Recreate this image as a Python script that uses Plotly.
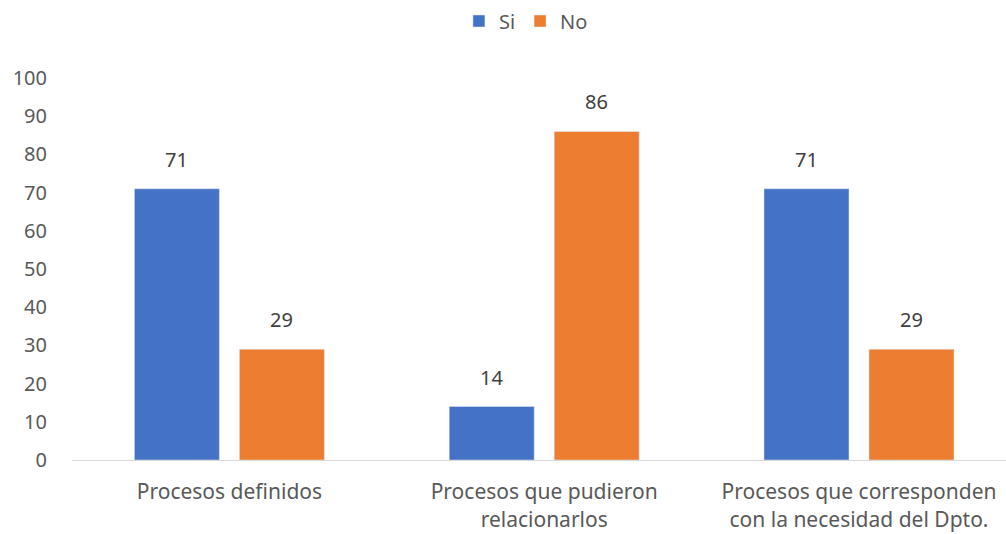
import plotly.graph_objects as go

categories = ["Procesos definidos", "Procesos que pudieron<br>relacionarlos",
              "Procesos que corresponden<br>con la necesidad del Dpto."]
si_values = [71, 14, 71]
no_values = [29, 86, 29]
y_ticks = [0, 10, 20, 30, 40, 50, 60, 70, 80, 90, 100]

BLUE = "#4472C4"
ORANGE = "#ED7D31"
FONT = "Noto Sans"
FS = 20

fig = go.Figure()
fig.add_trace(go.Bar(name="Si", x=categories, y=si_values, marker_color=BLUE))
fig.add_trace(go.Bar(name="No", x=categories, y=no_values, marker_color=ORANGE))

annotations = []
for vals, shift in ((si_values, -52.5), (no_values, 52.5)):
    for i, v in enumerate(vals):
        annotations.append(dict(x=i, y=v, xref="x", yref="y", text=str(v), showarrow=False,
                                xshift=shift, yanchor="bottom", yshift=14,
                                font=dict(family=FONT, size=FS, color="#404040")))

fig.update_layout(
    width=1006, height=534,
    margin=dict(l=72, r=0, t=78, b=74, autoexpand=False),
    paper_bgcolor="white", plot_bgcolor="white",
    barmode="group", bargap=0.333, bargroupgap=0.19,
    font=dict(family=FONT, size=FS, color="#595959"),
    legend=dict(orientation="h", x=0.486, xref="paper", xanchor="center",
                y=1 - 21 / 534, yref="container", yanchor="middle",
                font=dict(family=FONT, size=FS, color="#595959"), itemwidth=30, traceorder="normal"),
    annotations=annotations,
)
fig.update_xaxes(range=[-0.5, 2.467], showline=True, linecolor="#D9D9D9", linewidth=1,
                 showgrid=False, ticks="", ticklabelstandoff=13,
                 tickfont=dict(family=FONT, size=21, color="#595959"))
fig.update_yaxes(range=[0, 100], tickvals=y_ticks, showgrid=False, zeroline=False, showline=False,
                 ticks="", ticklabelstandoff=24,
                 tickfont=dict(family=FONT, size=FS, color="#595959"))

fig.write_html("out.html")
